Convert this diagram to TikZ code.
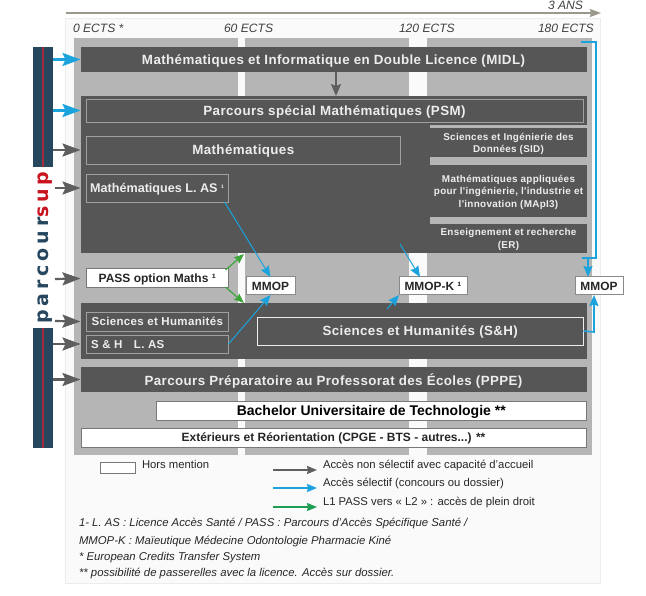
\documentclass[tikz,border=0pt]{standalone}
\usepackage{fontspec}
\setmainfont{Liberation Sans}
\newfontfamily\spacedfont[LetterSpace=3]{Liberation Sans}
\newfontfamily\logofont[LetterSpace=20]{DejaVu Sans}
\usetikzlibrary{arrows.meta, positioning, calc}
\definecolor{panelgray}{HTML}{FAFAFA}
\definecolor{panelline}{HTML}{ECECEC}
\definecolor{bandgray}{HTML}{B5B5B5}
\definecolor{darkgray}{HTML}{565656}
\definecolor{frameline}{HTML}{A0A0A0}
\definecolor{lightext}{HTML}{EDEDED}
\definecolor{barblue}{HTML}{27475F}
\definecolor{barred}{HTML}{A52A3C}
\definecolor{logored}{HTML}{C8141E}
\definecolor{accessblue}{HTML}{1AA3DC}
\definecolor{accessgray}{HTML}{5E5E5E}
\definecolor{accessgreen}{HTML}{3DA63A}
\definecolor{legendgreen}{HTML}{1E9E50}
\definecolor{timeline}{HTML}{9C998C}
\tikzset{
    base/.style={align=center, inner sep=0pt, outer sep=0pt},
    band/.style={base, fill=bandgray},
    darkbox/.style={base, text depth=0pt, fill=darkgray, text=lightext, font=\fontsize{13.35}{15}\selectfont\spacedfont\bfseries},
    framebox/.style={darkbox, draw=frameline, line width=0.8pt},
    sidebox/.style={base, text depth=0pt, fill=darkgray, text=lightext, font=\fontsize{9.9}{12.4}\selectfont\spacedfont\bfseries},
    whitebox/.style={base, text depth=0pt, fill=white, draw=darkgray!80, line width=1pt, text=black!85, font=\fontsize{12}{13}\selectfont\bfseries},
    mmopbox/.style={whitebox, draw=darkgray!70, minimum height=18pt, font=\fontsize{11.9}{13}\selectfont\bfseries},
    barbox/.style={base, fill=barblue, minimum width=20pt, minimum height=120pt},
    ects/.style={base, anchor=west, text height=9pt, text depth=2.5pt, font=\fontsize{12.1}{13}\selectfont\itshape, text=black!75},
    legend/.style={base, anchor=west, text height=9pt, text depth=2.5pt, font=\fontsize{11.3}{13}\selectfont, text=black!85},
    note/.style={base, anchor=west, text height=9pt, text depth=2.5pt, font=\fontsize{11.35}{13}\selectfont\itshape, text=black!85},
    grayarrow/.style={-{Stealth[length=18pt, width=13pt, inset=3pt]}, line width=2.2pt, draw=accessgray},
    bluearrow/.style={-{Stealth[length=18pt, width=13pt, inset=3pt]}, line width=2.2pt, draw=accessblue},
    thinblue/.style={-{Stealth[length=11pt, width=9pt, inset=1.5pt]}, line width=1pt, draw=accessblue},
    thingreen/.style={-{Stealth[length=10pt, width=8pt, inset=1.5pt]}, line width=1.2pt, draw=accessgreen},
    bracket/.style={line width=1.6pt, draw=accessblue}
}

\begin{document}
\begin{tikzpicture}[x=1pt, y=-1pt]
    \useasboundingbox (0,0) rectangle (646,596);

    % background
    \node (panel) [base, fill=panelgray, draw=panelline, line width=1pt, minimum width=535pt, minimum height=565pt] at (333,301) {};
    \node (banda) [band, minimum width=164pt, minimum height=417pt] at (156,246.5) {};
    \node (bandb) [band, minimum width=164pt, minimum height=417pt] at (326.5,246.5) {};
    \node (bandc) [band, minimum width=165pt, minimum height=417pt] at (509.5,246.5) {};

    % time line
    \coordinate (timestart) at (66,13);
    \coordinate (timeend) at (601,13);
    \draw [-{Stealth[length=11pt, width=8pt, inset=1pt]}, line width=1.2pt, draw=timeline] (timestart) -- (timeend);
    \node (years) [ects] at (548,6.5) {3 ANS};
    \node (ectsa) [ects] at (73,29.5) {0 ECTS *};
    \node (ectsb) [ects] at (224,29.5) {60 ECTS};
    \node (ectsc) [ects] at (399,29.5) {120 ECTS};
    \node (ectsd) [ects] at (538,29.5) {180 ECTS};

    % parcoursup
    \node (bartop) [barbox] at (43,107) {};
    \node (barbottom) [barbox] at (43,388) {};
    \draw [barred, line width=1.4pt] (bartop.north) -- (bartop.south);
    \draw [barred, line width=1.4pt] (barbottom.north) -- (barbottom.south);
    \node (logo) [base, rotate=90, font=\fontsize{19}{20}\selectfont\logofont\bfseries, text=barblue] at (45,247.5) {parcour\textcolor{logored}{sup}};

    % licence
    \node (midl) [darkbox, minimum width=506pt, minimum height=25pt] at (333.5,59.5) {Mathématiques et Informatique en Double Licence (MIDL)};
    \node (maindark) [darkbox, minimum width=506pt, minimum height=157pt] at (333.5,174.5) {};
    \node (psm) [framebox, minimum width=497pt, minimum height=23pt] at (334.5,110.5) {Parcours spécial Mathématiques (PSM)};
    \node (maths) [framebox, minimum width=314.5pt, minimum height=28pt] at (243.25,150) {Mathématiques};
    \node (mathslas) [framebox, minimum width=142.5pt, minimum height=28pt, font=\fontsize{12.6}{14}\selectfont\bfseries] at (157.25,188) {Mathématiques L. AS \textsuperscript{\fontsize{5}{5}\selectfont 1}};

    % parcours de troisieme annee
    \node (sidestrip) [band, minimum width=157pt, minimum height=128pt] at (508.5,189) {};
    \node (sid) [sidebox, minimum width=157pt, minimum height=29pt] at (508.5,143) {Sciences et Ingénierie des\\Données (SID)};
    \node (mapi) [sidebox, minimum width=157pt, minimum height=52pt] at (508.5,191) {Mathématiques appliquées\\pour l'ingénierie, l'industrie et\\l'innovation (MApI3)};
    \node (er) [sidebox, minimum width=157pt, minimum height=29pt] at (508.5,238.5) {Enseignement et recherche\\(ER)};

    % PASS et MMOP
    \node (pass) [whitebox, minimum width=142.5pt, minimum height=19pt] at (157.25,278.5) {PASS option Maths ¹};
    \node (mmopa) [mmopbox, minimum width=49pt] at (270.5,286) {MMOP};
    \node (mmopk) [mmopbox, minimum width=68pt] at (433,286) {MMOP-K ¹};
    \node (mmopc) [mmopbox, minimum width=48pt] at (599,286) {MMOP};

    % sciences et humanites
    \node (shdark) [darkbox, minimum width=506pt, minimum height=56pt] at (333.5,331) {};
    \node (shleft) [framebox, minimum width=142.5pt, minimum height=19pt, font=\fontsize{11.5}{13}\selectfont\spacedfont\bfseries] at (157.25,321.5) {Sciences et Humanités};
    \node (shlas) [framebox, minimum width=142.5pt, minimum height=18pt, font=\fontsize{11.5}{13}\selectfont\spacedfont\bfseries] at (157.25,344) {S \& H\quad L. AS\hspace{59pt}};
    \node (sh) [framebox, minimum width=326.5pt, minimum height=28pt, draw=lightext, line width=0.7pt] at (420.25,331) {Sciences et Humanités (S\&H)};

    % autres entrees
    \node (ppe) [darkbox, minimum width=506pt, minimum height=25pt] at (333.5,379.5) {Parcours Préparatoire au Professorat des Écoles (PPPE)};
    \node (but) [whitebox, minimum width=429.5pt, minimum height=19pt, font=\fontsize{14}{15}\selectfont\bfseries, text=black] at (371.25,410.5) {Bachelor Universitaire de Technologie **};
    \node (ext) [whitebox, minimum width=505pt, minimum height=19pt] at (333.5,437.5) {Extérieurs et Réorientation (CPGE - BTS - autres...) **};

    % acces
    \draw [bluearrow] (bartop.east |- midl.west) -- (midl.west);
    \draw [bluearrow] (bartop.east |- psm.west) -- (maindark.west |- psm.west);
    \draw [grayarrow] (bartop.east |- maths.west) -- (maindark.west |- maths.west);
    \coordinate (fromlas) at (55,188);
    \coordinate (frompass) at (55,279);
    \coordinate (fromsh) at (55,321);
    \draw [grayarrow] (fromlas) -- (mathslas.west -| maindark.west);
    \draw [grayarrow] (frompass) -- (pass.west -| maindark.west);
    \draw [grayarrow] (fromsh) -- (shleft.west -| maindark.west);
    \draw [grayarrow] (barbottom.east |- shlas.west) -- (shlas.west -| maindark.west);
    \draw [grayarrow] (barbottom.east |- ppe.west) -- (ppe.west);

    \draw [-{Stealth[length=12pt, width=10pt, inset=2pt]}, line width=1.6pt, draw=accessgray] (midl.south -| 336,0) -- (maindark.north -| 336,0);

    % passerelles
    \coordinate (passup) at (244,254);
    \coordinate (passdown) at (244,303);
    \draw [thingreen] ($(pass.north east)+(-3,1)$) -- (passup);
    \draw [thingreen] ($(pass.south east)+(-3,-1)$) -- (passdown);
    \draw [thinblue] ($(mathslas.south east)+(-4,0)$) -- (mmopa.north);
    \draw [thinblue] (shlas.east) -- (mmopa.south);
    \coordinate (kfrom) at (400,244);
    \coordinate (kto) at (420,277);
    \coordinate (kbelow) at (387,309);
    \draw [thinblue] (kfrom) -- (kto);
    \draw [thinblue] (kbelow) -- (mmopk.south west);
    \coordinate (bracketstart) at (581,42);
    \coordinate (bracketend) at (582,258);
    \draw [bracket] (bracketstart) -- (596,42) -- (596,258) -- (bracketend);
    \draw [thinblue, line width=1.6pt] (588,258) -- (mmopc.north -| 588,0);
    \draw [thinblue, line width=1.6pt] (sh.east) -- (594,332) -- (mmopc.south -| 594,0);

    % legende
    \node (horsbox) [base, fill=white, draw=darkgray!80, line width=0.8pt, minimum width=35pt, minimum height=11pt] at (117.5,467.5) {};
    \node (horstext) [legend, right=7pt of horsbox.east, yshift=2pt, anchor=west] {Hors mention};
    \node (nonselect) [legend] at (323,465.5) {Accès non sélectif avec capacité d'accueil};
    \node (select) [legend, below=6.7pt of nonselect.south west, anchor=north west] {Accès sélectif (concours ou dossier)};
    \node (plein) [legend, below=6.7pt of select.south west, anchor=north west] {L1 PASS vers « L2 » : accès de plein droit};
    \coordinate (legenda) at (273,470);
    \coordinate (legendb) at (273,488);
    \coordinate (legendc) at (273,507);
    \draw [-{Stealth[length=10pt, width=8pt, inset=1pt]}, line width=1.3pt, draw=accessgray] (legenda) -- ++(44,0);
    \draw [-{Stealth[length=10pt, width=8pt, inset=1pt]}, line width=1.3pt, draw=accessblue] (legendb) -- ++(44,0);
    \draw [-{Stealth[length=10pt, width=8pt, inset=1pt]}, line width=1.3pt, draw=legendgreen] (legendc) -- ++(44,0);

    % notes
    \node (notea) [note] at (79,523) {1- L. AS : Licence Accès Santé / PASS : Parcours d'Accès Spécifique Santé /};
    \node (noteb) [note] at (79,541) {MMOP-K : Maïeutique Médecine Odontologie Pharmacie Kiné};
    \node (notec) [note] at (79,557) {* European Credits Transfer System};
    \node (noted) [note] at (79,573) {** possibilité de passerelles avec la licence. Accès sur dossier.};
\end{tikzpicture}
\end{document}
